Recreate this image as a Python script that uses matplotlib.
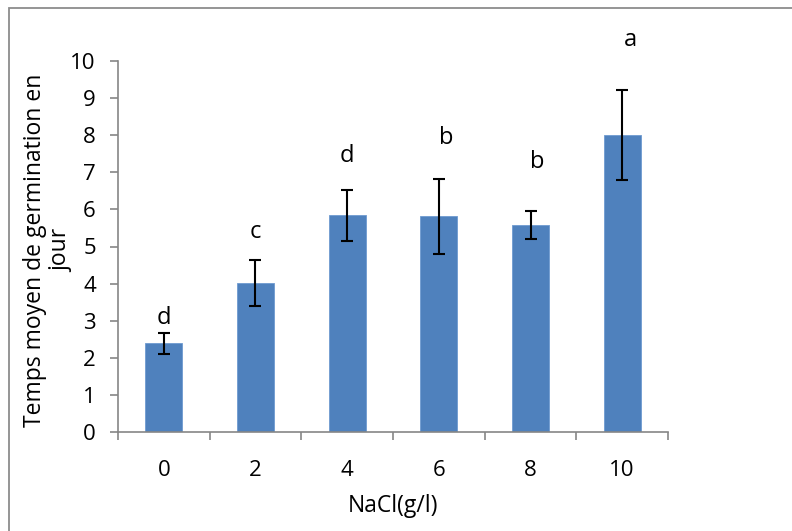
import matplotlib.pyplot as plt
import numpy as np
from matplotlib.patches import Rectangle

# data
nacl = ['0', '2', '4', '6', '8', '10']
temps = [2.39, 4.02, 5.84, 5.81, 5.57, 8.0]
erreur = [0.29, 0.62, 0.68, 1.02, 0.38, 1.22]
lettres = ['d', 'c', 'd', 'b', 'b', 'a']
lettre_y = [2.91, 5.22, 7.29, 7.76, 7.11, 10.40]
lettre_dx = [0.0, 0.0, 0.0, 0.08, 0.07, 0.09]

plt.rcParams['font.family'] = ['Open Sans', 'DejaVu Sans']

fig = plt.figure(figsize=(7.92, 5.31), dpi=100)
ax = fig.add_axes([118 / 792, 1 - 432 / 531, 550 / 792, 371 / 531])

x = np.arange(len(nacl))
ax.bar(x, temps, width=0.40, color='#4F81BD', edgecolor='#6E9AD0', linewidth=0.6, zorder=2)
ax.errorbar(x, temps, yerr=erreur, fmt='none', ecolor='black', elinewidth=1.5,
            capsize=4.5, capthick=1.5, zorder=3)

for i in range(len(nacl)):
    ax.text(x[i] + lettre_dx[i], lettre_y[i], lettres[i], ha='center', va='baseline',
            fontsize=17, clip_on=False)

ax.set_xlim(-0.5, len(nacl) - 0.5)
ax.set_ylim(0, 10)
ax.set_yticks(range(0, 11))
ax.tick_params(axis='y', labelsize=16, length=6, width=1.2, color='#868686', pad=10)

# category labels at centres, tick marks at boundaries
ax.set_xticks(x)
ax.set_xticklabels(nacl, fontsize=16)
ax.tick_params(axis='x', length=0, pad=20)
ax.set_xticks(np.arange(-0.5, len(nacl)), minor=True)
ax.tick_params(axis='x', which='minor', length=6, width=1.2, color='#868686')

for s in ['top', 'right']:
    ax.spines[s].set_visible(False)
for s in ['left', 'bottom']:
    ax.spines[s].set_color('#868686')
    ax.spines[s].set_linewidth(1.2)

fig.text(48 / 792, 1 - 250 / 531, 'Temps moyen de germination en\njour', rotation=90,
         ha='center', va='center', multialignment='center', fontsize=16.5, linespacing=1.1)
fig.text(393 / 792, 1 - 506 / 531, 'NaCl(g/l)', ha='center', va='center', fontsize=16.5)

# outer chart frame (runs past right and bottom edges)
fig.patches.append(Rectangle((9 / 792, -0.1), 1.2, 1 - 8 / 531 + 0.1, transform=fig.transFigure,
                             fill=False, edgecolor='#8C8C8C', linewidth=1.3))

fig.savefig('out.png', dpi=100)
